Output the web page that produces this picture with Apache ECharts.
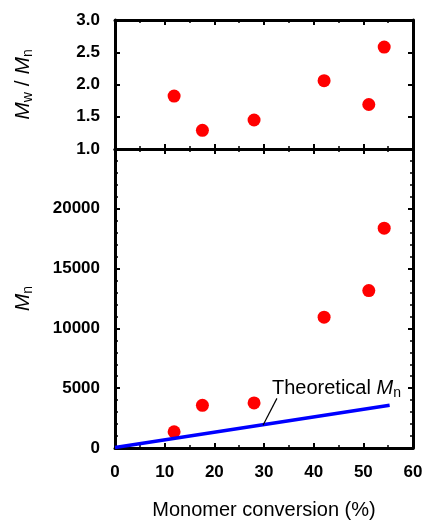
<!DOCTYPE html>
<html>
<head>
<meta charset="utf-8">
<script src="https://cdn.jsdelivr.net/npm/echarts@6/dist/echarts.min.js"></script>
<style>
    html, body { margin: 0; padding: 0; background: #fff; }
    #chart { width: 422px; height: 523px; }
</style>
</head>
<body>
<div id="chart"></div>
<script>
    // monomer conversion (%) of each sample
    var conversion = [11.9, 17.6, 28.0, 42.1, 51.1, 54.2];
    // Mw / Mn
    var dispersity = [1.82, 1.29, 1.45, 2.06, 1.69, 2.58];
    // Mn
    var mnValues = [1360, 3570, 3770, 10940, 13160, 18380];
    // theoretical Mn line
    var theoConversion = [0, 55.3];
    var theoMn = [50, 3570];
    // annotation leader line (data coords)
    var leaderFrom = [29.8, 1900];
    var leaderTo = [32.6, 4150];

    var fontFamily = '"Liberation Sans", Arial, sans-serif';

    function pairs(xs, ys) {
        var out = [];
        for (var i = 0; i < xs.length; i++) out.push([xs[i], ys[i]]);
        return out;
    }

    function xAx(gridIndex, position, showLabel) {
        return {
            type: 'value', gridIndex: gridIndex, position: position,
            min: 0, max: 60, interval: 10,
            axisLine: { show: true, onZero: false, lineStyle: { color: '#000', width: 3 } },
            axisTick: { show: true, inside: true, length: 5, lineStyle: { color: '#000', width: 2 } },
            minorTick: { show: true, splitNumber: 2, length: 3, lineStyle: { color: '#000', width: 1.5 } },
            axisLabel: { show: showLabel, color: '#000', fontSize: 17, fontWeight: 'bold', fontFamily: fontFamily, margin: 16 },
            splitLine: { show: false }
        };
    }

    function yAx(gridIndex, position, opts) {
        var ax = {
            type: 'value', gridIndex: gridIndex, position: position,
            min: opts.min, max: opts.max, interval: opts.interval,
            axisLine: { show: true, onZero: false, lineStyle: { color: '#000', width: 3 } },
            axisTick: { show: true, inside: true, length: 5, lineStyle: { color: '#000', width: 2 } },
            minorTick: { show: opts.minor > 0, splitNumber: opts.minor || 5, length: 3, lineStyle: { color: '#000', width: 1.5 } },
            axisLabel: {
                show: opts.showLabel, color: '#000', fontSize: 17, fontWeight: 'bold', fontFamily: fontFamily,
                margin: 15, showMaxLabel: opts.showMax,
                formatter: function (v) { return v.toFixed(opts.digits || 0); }
            },
            splitLine: { show: false }
        };
        if (opts.name) {
            ax.name = opts.name;
            ax.nameLocation = 'middle';
            ax.nameGap = 80;
            ax.nameRotate = 90;
            ax.nameTextStyle = {
                color: '#000', fontFamily: fontFamily,
                rich: {
                    i: { fontSize: 21, fontStyle: 'italic', fontFamily: fontFamily, color: '#000', lineHeight: 24 },
                    t: { fontSize: 21, fontFamily: fontFamily, color: '#000', lineHeight: 24 },
                    s: { fontSize: 14, fontFamily: fontFamily, color: '#000', lineHeight: 24, verticalAlign: 'bottom', padding: [8, 0, 0, 0] }
                }
            };
        }
        return ax;
    }

    var chart = echarts.init(document.getElementById('chart'), null, { renderer: 'canvas' });

    var option = {
        backgroundColor: '#fff',
        animation: false,
        grid: [
            { left: 115, top: 20, width: 298, height: 129, containLabel: false, outerBoundsMode: 'none' },
            { left: 115, top: 149, width: 298, height: 299, containLabel: false, outerBoundsMode: 'none' }
        ],
        xAxis: [
            xAx(0, 'bottom', false),
            xAx(0, 'top', false),
            (function () {
                var a = xAx(1, 'bottom', true);
                a.name = 'Monomer conversion (%)';
                a.nameLocation = 'middle';
                a.nameGap = 52;
                a.nameTextStyle = { color: '#000', fontSize: 20, fontFamily: fontFamily };
                return a;
            })(),
            xAx(1, 'top', false)
        ],
        yAxis: [
            yAx(0, 'left', { min: 1, max: 3, interval: 0.5, minor: 0, digits: 1, showLabel: true, showMax: true, name: '{i|M}{s|w}{t| / }{i|M}{s|n}' }),
            yAx(0, 'right', { min: 1, max: 3, interval: 0.5, minor: 0, showLabel: false }),
            yAx(1, 'left', { min: 0, max: 25000, interval: 5000, minor: 5, digits: 0, showLabel: true, showMax: false, name: '{i|M}{s|n}' }),
            yAx(1, 'right', { min: 0, max: 25000, interval: 5000, minor: 5, showLabel: false })
        ],
        series: [
            {
                name: 'Mw/Mn', type: 'scatter', xAxisIndex: 0, yAxisIndex: 0,
                symbolSize: 13, itemStyle: { color: '#ff0000', opacity: 1 },
                data: pairs(conversion, dispersity)
            },
            {
                name: 'Theoretical Mn', type: 'line', xAxisIndex: 2, yAxisIndex: 2,
                symbol: 'none', lineStyle: { color: '#0000ff', width: 3.5 },
                data: pairs(theoConversion, theoMn),
                markLine: {
                    silent: true, symbol: 'none',
                    lineStyle: { color: '#000', width: 1.2, type: 'solid' },
                    label: { show: false },
                    data: [[{ coord: leaderFrom }, { coord: leaderTo }]]
                }
            },
            {
                name: 'Mn', type: 'scatter', xAxisIndex: 2, yAxisIndex: 2,
                symbolSize: 13, itemStyle: { color: '#ff0000', opacity: 1 },
                data: pairs(conversion, mnValues)
            }
        ],
        graphic: [
            {
                type: 'text', left: 272, top: 378,
                style: {
                    text: '{t|Theoretical }{i|M}{s|n}',
                    fill: '#000',
                    rich: {
                        t: { fontSize: 20, fontFamily: fontFamily, fill: '#000', lineHeight: 24 },
                        i: { fontSize: 20, fontStyle: 'italic', fontFamily: fontFamily, fill: '#000', lineHeight: 24 },
                        s: { fontSize: 14, fontFamily: fontFamily, fill: '#000', lineHeight: 24, verticalAlign: 'bottom', padding: [8, 0, 0, 0] }
                    }
                }
            }
        ]
    };

    chart.setOption(option);
</script>
</body>
</html>
